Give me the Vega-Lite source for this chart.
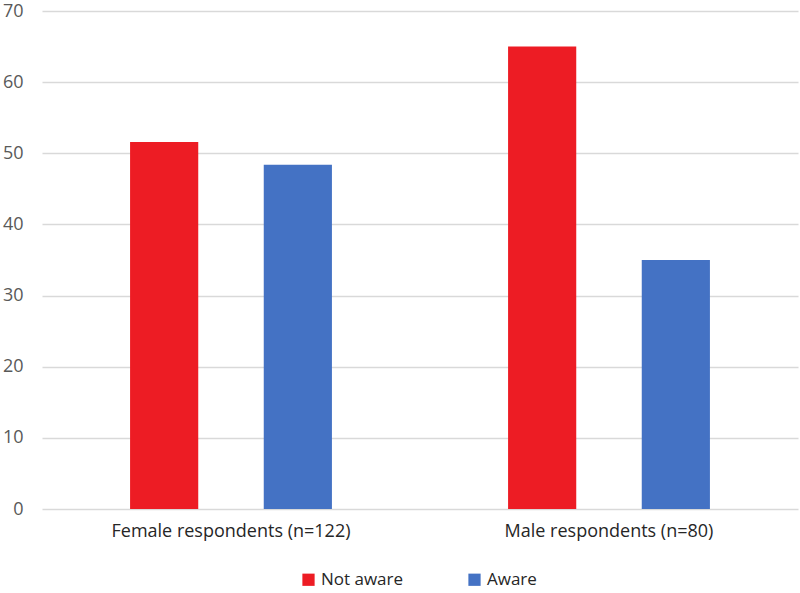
{
  "$schema": "https://vega.github.io/schema/vega-lite/v6.json",
  "width": 756,
  "height": 498,
  "autosize": {"type": "none"},
  "padding": {"left": 42, "top": 11, "right": 2, "bottom": 84},
  "background": "white",
  "config": {
    "view": {"stroke": null},
    "font": "Open Sans",
    "axis": {"labelFont": "Open Sans", "labelColor": "#595959", "labelFontSize": 16}
  },
  "data": {
    "values": [
      {"group": "Female respondents (n=122)", "status": "Not aware", "value": 51.6},
      {"group": "Female respondents (n=122)", "status": "Aware", "value": 48.4},
      {"group": "Male respondents (n=80)", "status": "Not aware", "value": 65},
      {"group": "Male respondents (n=80)", "status": "Aware", "value": 35}
    ]
  },
  "mark": {"type": "bar"},
  "encoding": {
    "x": {
      "field": "group",
      "type": "nominal",
      "sort": null,
      "title": null,
      "scale": {"paddingInner": 0.466, "paddingOuter": 0.233},
      "axis": {"labelAngle": 0, "domain": false, "ticks": false, "labelPadding": 13, "labelColor": "#262626", "labelFontSize": 18, "labelLimit": 0}
    },
    "xOffset": {
      "field": "status",
      "type": "nominal",
      "sort": ["Not aware", "Aware"],
      "scale": {"paddingInner": 0.49, "paddingOuter": 0}
    },
    "y": {
      "field": "value",
      "type": "quantitative",
      "title": null,
      "scale": {"domain": [0, 70], "nice": false},
      "axis": {"values": [0, 10, 20, 30, 40, 50, 60, 70], "domain": false, "ticks": false, "labelPadding": 19, "gridColor": "#d9d9d9", "gridWidth": 1.5, "labelFontSize": 18, "labelColor": "#595959"}
    },
    "color": {
      "field": "status",
      "type": "nominal",
      "sort": ["Not aware", "Aware"],
      "scale": {"domain": ["Not aware", "Aware"], "range": ["#ed1c24", "#4472c4"]},
      "legend": {
        "title": null,
        "orient": "none",
        "legendX": 258,
        "legendY": 560,
        "direction": "horizontal",
        "symbolType": "square",
        "symbolSize": 150,
        "symbolStrokeWidth": 0,
        "labelFontSize": 17,
        "labelColor": "#262626",
        "labelFont": "Open Sans",
        "columnPadding": 62,
        "labelOffset": 4
      }
    }
  }
}
